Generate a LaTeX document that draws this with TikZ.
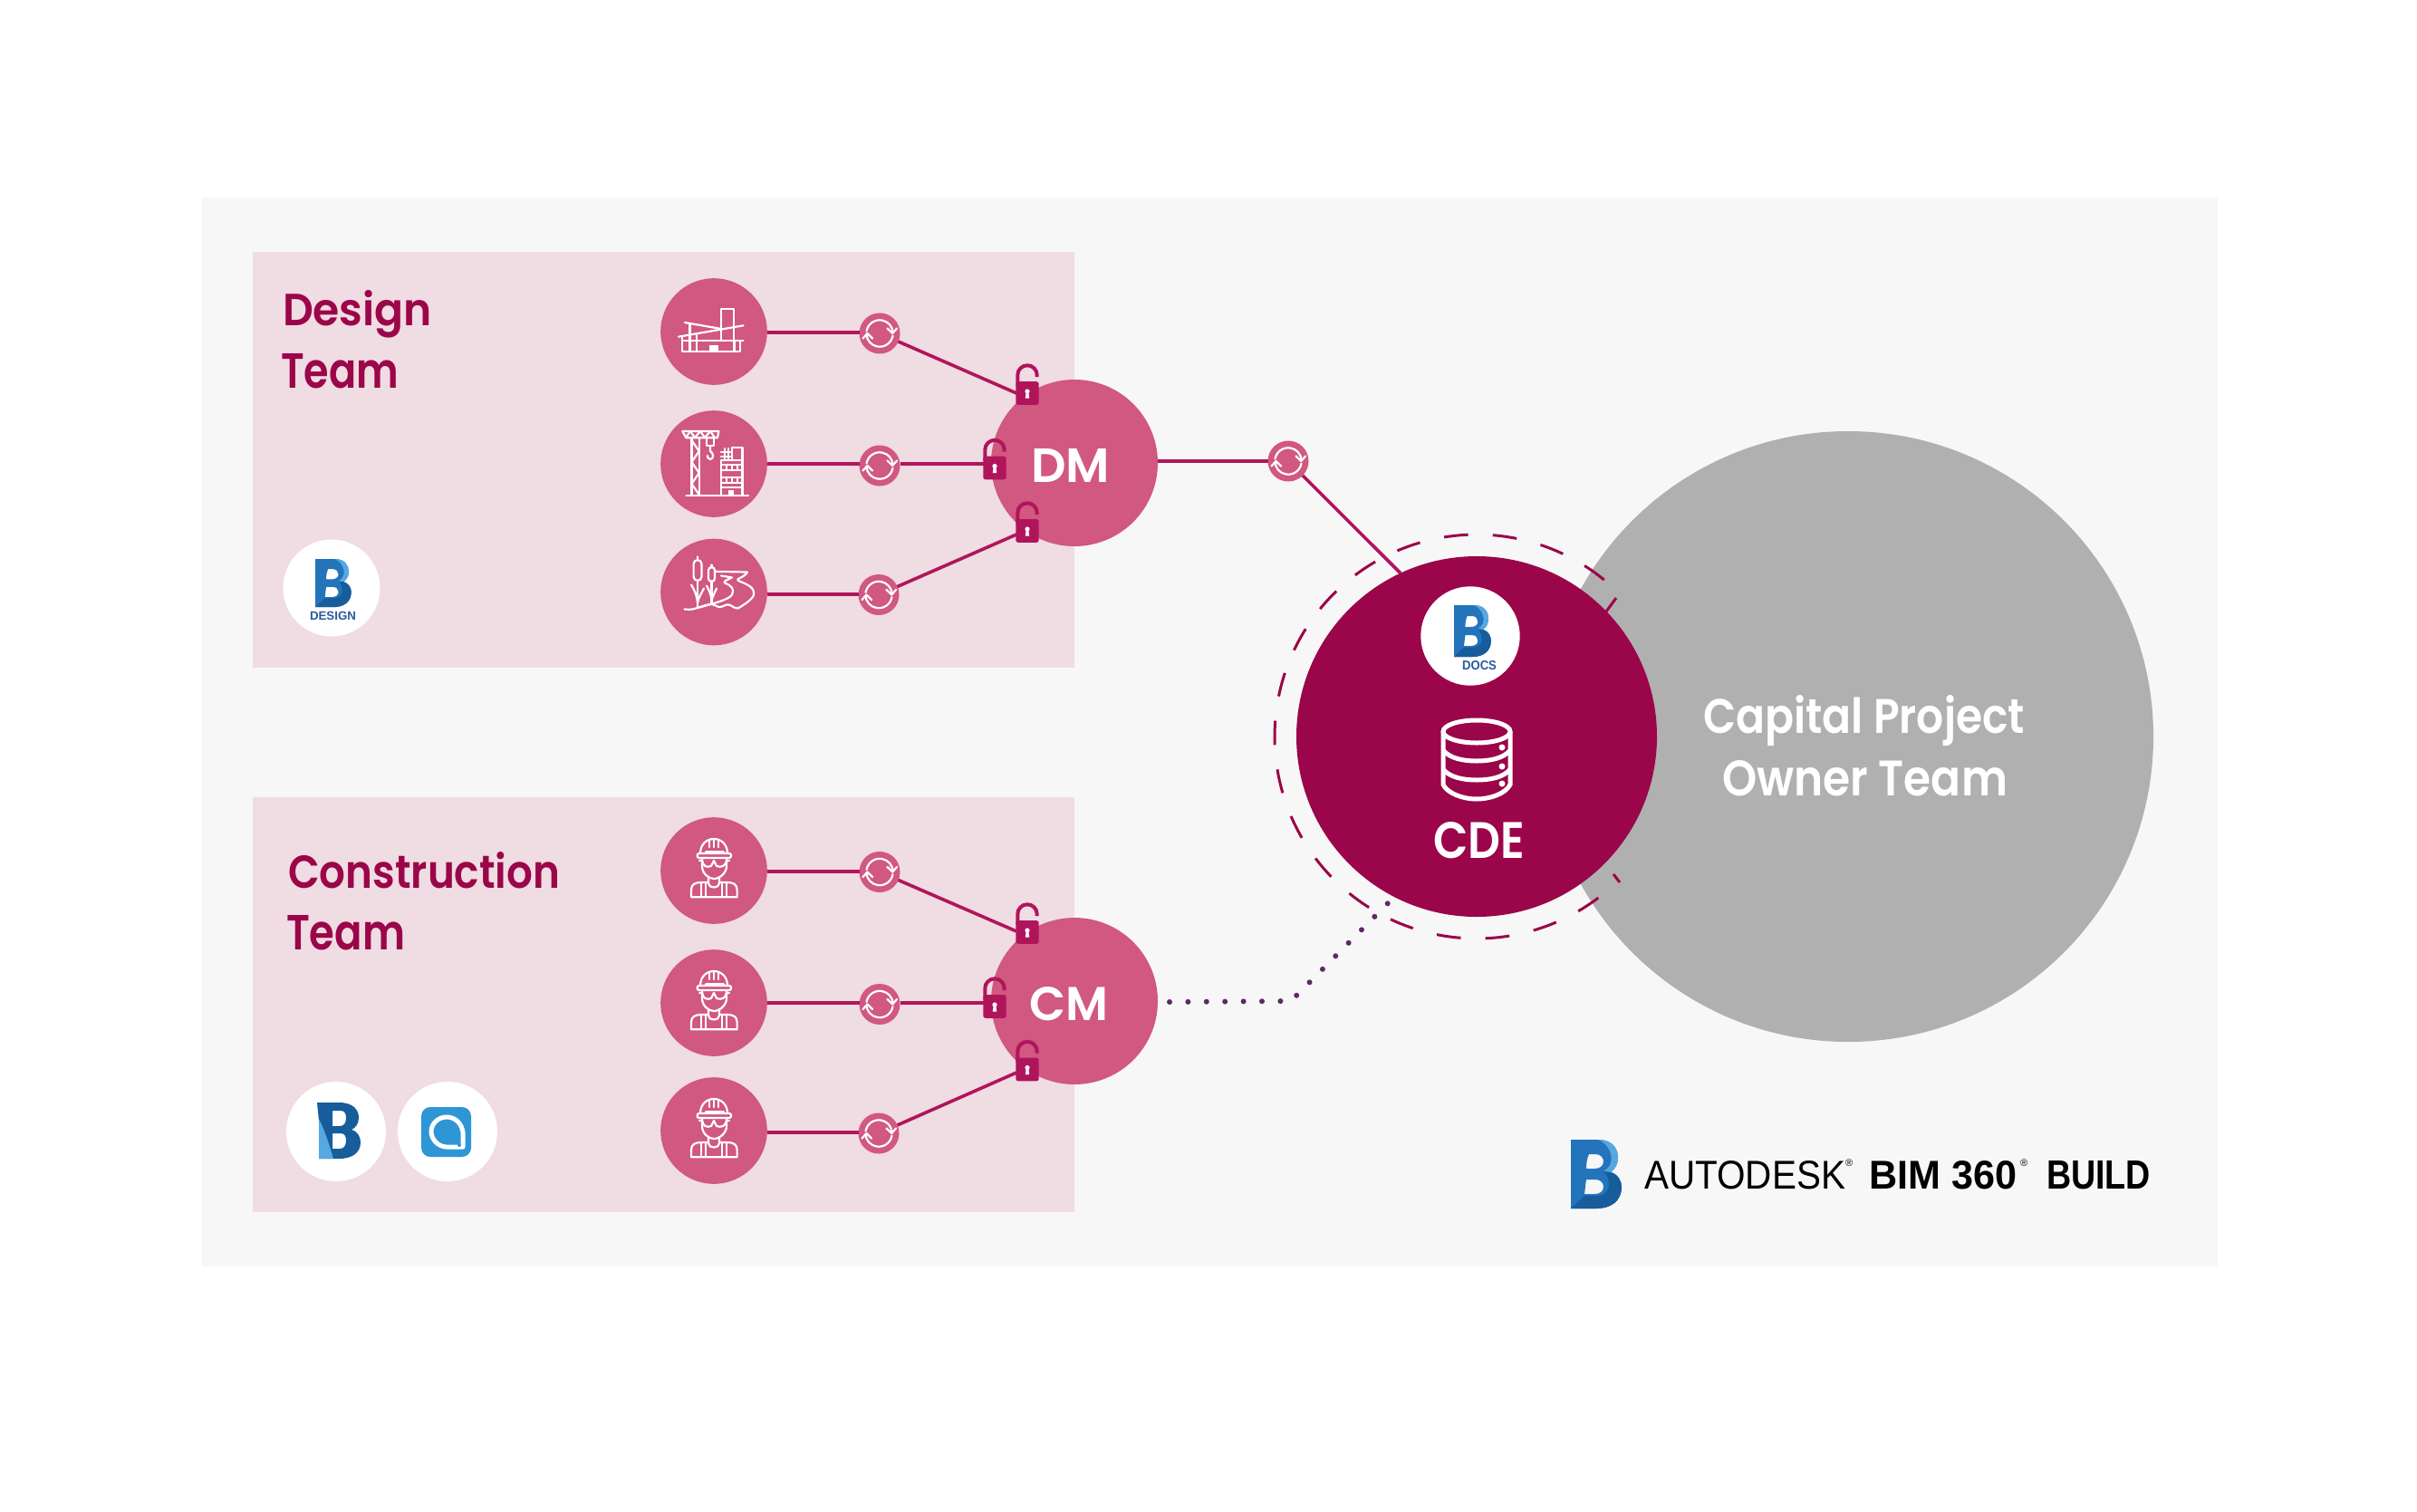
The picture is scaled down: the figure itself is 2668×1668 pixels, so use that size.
\documentclass[tikz,border=0pt]{standalone}
\usepackage{graphicx}
\usepackage{fontspec}
\setmainfont{Liberation Sans}
\newfontfamily\labfont{Poppins SemiBold}
\usetikzlibrary{calc}
\definecolor{panelgrey}{HTML}{F7F7F7}
\definecolor{boxpink}{HTML}{F0DCE3}
\definecolor{rosefill}{HTML}{D15880}
\definecolor{linkred}{HTML}{B0155C}
\definecolor{deepred}{HTML}{9B0549}
\definecolor{ownergrey}{HTML}{B0B0B0}
\definecolor{dotpurple}{HTML}{5D2A63}
\definecolor{logomid}{HTML}{2474BC}
\definecolor{logodark}{HTML}{175C9B}
\definecolor{logolight}{HTML}{55A8E0}
\definecolor{logotext}{HTML}{2A5A9E}
\definecolor{qblue}{HTML}{2F96D6}
\newcommand{\fitlabel}[3]{\resizebox{#1pt}{#2pt}{#3}}
\newcommand{\lockat}[2]{%
  \pic at (#2) {lockshackle};
  \node[lockbody] (#1) at (#2) {};
  \pic at (#2) {lockkey};}
\tikzset{
  teamdot/.style={circle,fill=rosefill,minimum size=117.6pt,inner sep=0pt,outer sep=0pt},
  syncdot/.style={circle,fill=rosefill,minimum size=45pt,inner sep=0pt,outer sep=0pt},
  hubdot/.style={circle,fill=rosefill,minimum size=184pt,inner sep=0pt,outer sep=0pt},
  logodot/.style={circle,fill=white,minimum size=#1,inner sep=0pt,outer sep=0pt},
  lockbody/.style={rectangle,rounded corners=2.5pt,fill=linkred,minimum width=25.4pt,minimum height=25.6pt,inner sep=0pt,outer sep=0pt},
  linkline/.style={draw=linkred,line width=3.6pt},
  dashring/.style={draw=deepred,line width=3pt},
  dotline/.style={draw=dotpurple,line width=6pt,line cap=round,dash pattern=on 0pt off 20.4pt},
  iconline/.style={draw=white,line width=2.2pt,line cap=round,line join=round,fill=none},
  lab/.style={inner sep=0pt,outer sep=0pt,anchor=base west},
  lockshackle/.pic={\draw[draw=linkred,line width=4pt] (-10.7,-8) -- (-10.7,-20) arc[start angle=180,end angle=360,radius=10.7] -- (10.7,-18);},
  lockkey/.pic={\fill[white] (0,-2) circle (2.6) (-1.3,-1.5) -- (1.3,-1.5) -- (2.2,5.5) -- (-2.2,5.5) -- cycle;},
  syncicon/.pic={
    \draw[iconline] (-170:14.7) arc[start angle=-170,end angle=-3,radius=14.7];
    \draw[iconline] (8.5,-5.5) -- (14.2,0) -- (19,-5.5);
    \draw[iconline] (10:14.7) arc[start angle=10,end angle=177,radius=14.7];
    \draw[iconline] (-18.5,5.5) -- (-13.5,0) -- (-8,5.5);},
  buildingicon/.pic={
    \draw[iconline] (8,10) -- (8,-25) -- (21.6,-25) -- (21.6,10);
    \draw[iconline] (-32,-10) -- (8,-3);
    \draw[iconline] (-39,5.7) -- (32.6,-6.7);
    \draw[iconline] (-35,10) -- (32.6,10);
    \draw[iconline] (-35,6) -- (-35,22) -- (28.6,22) -- (28.6,10);
    \draw[iconline] (-26.5,-8) -- (-26.5,22) (-19,2) -- (-19,22) (22.4,10) -- (22.4,22);
    \fill[white] (-5,15) rectangle (5,22);},
  craneicon/.pic={
    \draw[iconline] (-24.5,34.7) -- (-24.5,-28.7) (-16.3,34.7) -- (-16.3,-28.7);
    \draw[iconline] (-34.7,-36) -- (5.3,-36) -- (4,-28.7) -- (-30.6,-28.7) -- cycle;
    \draw[iconline] (-31,-29) -- (-26,-36) -- (-21,-29) -- (-15,-36) -- (-10,-29) -- (-4,-36) -- (1,-29);
    \draw[iconline] (-24.5,-26) -- (-16.3,-14) -- (-24.5,-2) -- (-16.3,10) -- (-24.5,22) -- (-16.3,34);
    \draw[iconline] (-8.2,-28) -- (-8.2,-20) -- (0,-20) -- (0,-28);
    \draw[iconline] (-4,-20) -- (-4,-14) .. controls (0,-12) and (0,-5) .. (-4,-5) .. controls (-7,-5) and (-7,-8) .. (-7,-9);
    \draw[iconline] (8,34.7) -- (8,-3.7) -- (31.4,-3.7) -- (31.4,34.7);
    \draw[iconline] (20,-3.7) -- (20,-18) -- (31.4,-18) -- (31.4,-3.7);
    \draw[iconline] (8,-13) -- (20,-13) (8,-8) -- (20,-8) (12,-17) -- (12,-3.7) (16,-17) -- (16,-3.7);
    \draw[iconline] (8,1.3) -- (31.4,1.3) (8,6.7) -- (31.4,6.7) (8,14.7) -- (31.4,14.7) (8,21.3) -- (31.4,21.3) (8,26.3) -- (31.4,26.3);
    \draw[iconline] (14,1.3) -- (14,6.7) (20,1.3) -- (20,6.7) (26,1.3) -- (26,6.7) (14,14.7) -- (14,21.3) (20,14.7) -- (20,21.3) (26,14.7) -- (26,21.3);
    \draw[iconline] (-30.6,34.7) -- (38,34.7);
    \fill[white] (16.3,29) rectangle (22.4,34.7);},
  reedicon/.pic={
    \draw[iconline] (-22.4,-31) arc[start angle=180,end angle=360,radius=4.45] -- (-13.5,-17) arc[start angle=0,end angle=180,radius=4.45] -- cycle;
    \draw[iconline] (-18,-35) -- (-18,-39) (-18,-13) -- (-18,16);
    \draw[iconline] (-25,-8) .. controls (-21,-2) and (-19,4) .. (-18,12) (-11,-4) .. controls (-13,0) and (-17,6) .. (-18,12);
    \draw[iconline] (-6,-24) arc[start angle=180,end angle=360,radius=3.5] -- (1,-15) arc[start angle=0,end angle=180,radius=3.5] -- cycle;
    \draw[iconline] (-2.5,-27) -- (-2.5,-30) (-2.5,-12) -- (-2.5,13);
    \draw[iconline] (-8,-7) .. controls (-5,-2) and (-3,4) .. (-2.5,9) (3,-4) .. controls (1,0) and (-1,5) .. (-2.5,9);
    \draw[iconline] (1,-22.7) -- (37,-22) .. controls (33,-15) and (22,-15) .. (28,-12) .. controls (38,-8) and (45,-5) .. (44,3) .. controls (43,8) and (32,15) .. (26.5,18) .. controls (20,18) and (20,13) .. (14,14) .. controls (9,16) and (6,18) .. (2,15) .. controls (-3,11) and (-12,16) .. (-20,18) .. controls (-25,20) and (-29,19) .. (-32.6,19);
    \draw[iconline] (8,-18) -- (20,-16) .. controls (14,-13) and (10,-12) .. (12,-10) .. controls (20,-7) and (23,-3) .. (20,3) .. controls (17,8) and (2,12) .. (-16,17);},
  workericon/.pic={
    \draw[iconline] (-15,-19) .. controls (-15,-29) and (-8,-35) .. (0,-35) .. controls (8,-35) and (15,-29) .. (15,-19);
    \draw[iconline,rounded corners=2pt] (-18.3,-19) rectangle (19,-14);
    \draw[iconline] (-9,-20.5) -- (11,-20.5);
    \draw[iconline] (-5,-33.5) -- (-5,-26) (0,-35) -- (0,-26) (5,-33.5) -- (5,-26);
    \draw[iconline] (-13,-14) -- (-13,-5) .. controls (-13,3) and (-6,9) .. (0,9) .. controls (6,9) and (14,3) .. (14,-5) -- (14,-14);
    \draw[iconline] (-16,-11) -- (-13,-11) .. controls (-12,-5) and (-8,-3) .. (-3,-5) -- (0,-11) -- (3,-5) .. controls (8,-3) and (13,-5) .. (14,-11) -- (17,-11);
    \draw[iconline] (-6,7) -- (-6,14) .. controls (-6,20) and (6,20) .. (6,14) -- (6,7);
    \draw[iconline] (-6,13) -- (-14,13) .. controls (-20,13) and (-25,15) .. (-25,21) -- (-25,29.3) -- (25.6,29.3) -- (25.6,21) .. controls (25.6,15) and (21,13) .. (15,13) -- (6,13);
    \draw[iconline] (-14.3,14) -- (-14.3,29) (-9,14) -- (-9,29) (9,14) -- (9,29) (14.3,14) -- (14.3,29);},
  bimlogo/.pic={
    \fill[logomid,even odd rule]
      (0,0) -- (30,0) .. controls (46,0) and (52,10) .. (52,20) .. controls (52,27) and (49,32) .. (44,36) .. controls (52,38) and (56,46) .. (56,52) .. controls (56,68) and (44,76) .. (28,76) -- (0,76) -- cycle
      (20,16) -- (27,16) .. controls (33,16) and (36,20) .. (36,24) .. controls (36,29) and (32,32) .. (26,32) -- (17,32) .. controls (17,26) and (18,20) .. (20,16) -- cycle
      (17,44) -- (27,44) .. controls (33,44) and (36,48) .. (36,52) .. controls (36,57) and (32,60) .. (26,60) -- (15,60) -- cycle;
    \fill[logolight] (30,0) .. controls (46,0) and (52,10) .. (52,20) .. controls (52,27) and (49,32) .. (44,36) -- (36,35) .. controls (44,30) and (46,24) .. (44,16) .. controls (42,8) and (36,2) .. (30,0) -- cycle;
    \fill[logodark] (44,36) .. controls (52,38) and (56,46) .. (56,52) .. controls (56,68) and (44,76) .. (28,76) -- (0,76) -- (15,62) -- (28,62) .. controls (38,62) and (42,56) .. (42,50) .. controls (42,44) and (40,38) .. (36,35) -- cycle;},
  buildlogo/.pic={
    \fill[logodark,even odd rule]
      (0,0) -- (24,0) .. controls (40,0) and (46,8) .. (46,17) .. controls (46,24) and (42,28) .. (38,30) .. controls (45,32) and (48,38) .. (48,44) .. controls (48,56) and (38,62) .. (24,62) -- (2,62) -- (2,20) -- cycle
      (17,9) -- (26,9) .. controls (31,9) and (32,13) .. (32,17) .. controls (32,22) and (30,26) .. (25,26) -- (17,26) -- cycle
      (17,34) -- (26,34) .. controls (31,34) and (32,38) .. (32,42) .. controls (32,47) and (30,51) .. (25,51) -- (17,51) -- cycle;
    \fill[logolight] (2,18) -- (2,62) -- (18,62) .. controls (14,48) and (9,32) .. (2,18) -- cycle;},
}
\begin{document}
\begin{tikzpicture}[x=1pt,y=-1pt]
\useasboundingbox (0,0) rectangle (2668,1668);
\fill[white] (0,0) rectangle (2668,1668);
\fill[panelgrey] (223,218) rectangle (2448,1398);
\fill[boxpink] (279,278) rectangle (1186,737);
\fill[boxpink] (279,880) rectangle (1186,1338);

% owner and CDE
\node[circle,fill=ownergrey,minimum size=674pt,inner sep=0pt,outer sep=0pt] (owner) at (2040,813) {};
\node[circle,fill=deepred,minimum size=398pt,inner sep=0pt,outer sep=0pt] (cde) at (1630,813) {};
\foreach \i in {0,...,18}{
  \pgfmathsetmacro{\ang}{-54.3-13.85*\i}
  \draw[dashring] ($(cde.center)+(\ang-3.43:223)$) arc[start angle=\ang-3.43,end angle=\ang+3.43,radius=223];
}
\coordinate (ra) at (1773,675);
\coordinate (rb) at (1784,660);
\coordinate (rc) at (1781,965);
\coordinate (rd) at (1788,974);
\draw[dashring] (ra) -- (rb);
\draw[dashring] (rc) -- (rd);

% white logo discs
\node[logodot=109.4pt] (docsdisc) at (1623,702) {};
\pic[xscale=0.73,yscale=0.75] at (1605,668) {bimlogo};
\node[lab,text=logotext] (docstext) at (1614,739) {\fitlabel{38}{10}{\bfseries DOCS}};
\node[logodot=107pt] (designdisc) at (366,649) {};
\pic[xscale=0.71,yscale=0.70] at (348,617) {bimlogo};
\node[lab,text=logotext] (designtext) at (342,684) {\fitlabel{51}{9.3}{\bfseries DESIGN}};
\node[logodot=110pt] (builddisc) at (371,1249) {};
\pic[xscale=1,yscale=1] at (350,1217) {buildlogo};
\node[logodot=110pt] (qdisc) at (494,1249) {};
\node[rectangle,rounded corners=10pt,fill=qblue,minimum width=55pt,minimum height=55pt,inner sep=0pt,outer sep=0pt] (qsquare) at (492.5,1249.5) {};
\draw[draw=white,line width=5pt,line join=round] (476,1249) .. controls (476,1240) and (484,1233) .. (493,1233) .. controls (503,1233) and (510,1241) .. (511,1250) -- (511,1266) -- (493,1266) .. controls (484,1266) and (476,1258) .. (476,1249) -- cycle;
\fill[qblue] (507,1264) circle (2);

% database
\begin{scope}[draw=white,line width=5pt]
\draw (1630,807.5) ellipse (37 and 12.5);
\draw (1593,807.5) -- (1593,866) .. controls (1598,876) and (1615,882) .. (1630,882) .. controls (1645,882) and (1662,876) .. (1667,866) -- (1667,807.5);
\draw (1593,828) .. controls (1600,837) and (1615,840) .. (1630,840) .. controls (1645,840) and (1660,837) .. (1667,828);
\draw (1593,849) .. controls (1600,858) and (1615,861) .. (1630,861) .. controls (1645,861) and (1660,858) .. (1667,849);
\end{scope}
\fill[white] (1658,825) circle (3.5) (1658,846) circle (3.5) (1658,865) circle (3.5);

% team, sync and hub nodes
\node[teamdot] (t1) at (788,366) {};
\node[teamdot] (t2) at (788,512) {};
\node[teamdot] (t3) at (788,653.5) {};
\node[teamdot] (t4) at (788,961) {};
\node[teamdot] (t5) at (788,1107) {};
\node[teamdot] (t6) at (788,1248) {};
\node[syncdot] (s1) at (971,368) {};
\node[syncdot] (s2) at (971,514) {};
\node[syncdot] (s3) at (970,656.5) {};
\node[syncdot] (s4) at (971,962.5) {};
\node[syncdot] (s5) at (971,1108.5) {};
\node[syncdot] (s6) at (970,1251) {};
\node[syncdot] (s7) at (1422,509) {};
\node[hubdot] (dm) at (1186,511) {};
\node[hubdot] (cm) at (1186,1105) {};

\pic at (t1) {buildingicon};
\pic at (t2) {craneicon};
\pic at (t3) {reedicon};
\pic at (t4) {workericon};
\pic at (t5) {workericon};
\pic at (t6) {workericon};
\foreach \n in {s1,s2,s3,s4,s5,s6,s7}{\pic at (\n) {syncicon};}

% locks
\lockat{k1}{1134,434}
\lockat{k2}{1098,516.5}
\lockat{k3}{1134,586}
\lockat{k4}{1134,1029}
\lockat{k5}{1098,1111}
\lockat{k6}{1134,1180.5}
\coordinate (e1) at (1122,434);
\coordinate (e2) at (1086,512);
\coordinate (e3) at (1122,590);
\coordinate (e4) at (1122,1028);
\coordinate (e5) at (1086,1107);
\coordinate (e6) at (1122,1184);

% connectors
\draw[linkline] (t1.east |- 0,367) -- (s1.west |- 0,367);
\draw[linkline] (t2.east) -- (s2.west |- t2.east);
\draw[linkline] (s2.east |- t2.east) -- (e2);
\draw[linkline] (t3.east |- 0,656) -- (s3.west |- 0,656);
\draw[linkline] (t4.east |- 0,962) -- (s4.west |- 0,962);
\draw[linkline] (t5.east) -- (s5.west |- t5.east);
\draw[linkline] (s5.east |- t5.east) -- (e5);
\draw[linkline] (t6.east |- 0,1250) -- (s6.west |- 0,1250);
\draw[linkline] (s1) -- (e1);
\draw[linkline] (s3) -- (e3);
\draw[linkline] (s4) -- (e4);
\draw[linkline] (s6) -- (e6);
\draw[linkline] (dm.east |- s7) -- (s7);
\draw[linkline] (s7) -- (cde.115);
\coordinate (d1) at (1291,1106);
\coordinate (d2) at (1425,1105);
\coordinate (d3) at (1532,997);
\draw[dotline] (d1) -- (d2) -- (d3);

% labels
\node[lab,text=white] (dmtext) at (1138,532) {\fitlabel{87}{37}{\labfont DM}};
\node[lab,text=white] (cmtext) at (1136,1126) {\fitlabel{87}{37}{\labfont CM}};
\node[lab,text=white] (cdetext) at (1582,947) {\fitlabel{101}{40}{\labfont CDE}};
\node[lab,text=deepred] (dt1) at (312,359) {\fitlabel{165}{39}{\labfont Design}};
\node[lab,text=deepred] (dt2) at (310,428) {\fitlabel{130}{38}{\labfont Team}};
\node[lab,text=deepred] (ct1) at (318,980) {\fitlabel{300}{40}{\labfont Construction}};
\node[lab,text=deepred] (ct2) at (316,1048) {\fitlabel{131}{38}{\labfont Team}};
\node[lab,text=white] (ot1) at (1880,809) {\fitlabel{355}{42}{\labfont Capital Project}};
\node[lab,text=white] (ot2) at (1901,878) {\fitlabel{315}{39}{\labfont Owner Team}};

% bottom-right brand
\pic at (1734,1258) {bimlogo};
\node[lab,text=black] (bt1) at (1815,1312) {\fitlabel{222}{31}{AUTODESK}};
\node[inner sep=0pt,outer sep=0pt,anchor=north west,text=black,font=\fontsize{11}{11}\selectfont] (bt2) at (2037,1280) {®};
\node[lab,text=black] (bt3) at (2063,1312) {\fitlabel{163}{31}{\bfseries BIM 360}};
\node[inner sep=0pt,outer sep=0pt,anchor=north west,text=black,font=\fontsize{11}{11}\selectfont] (bt4) at (2230,1280) {®};
\node[lab,text=black] (bt5) at (2259,1312) {\fitlabel{115}{31}{\bfseries BUILD}};
\end{tikzpicture}
\end{document}
